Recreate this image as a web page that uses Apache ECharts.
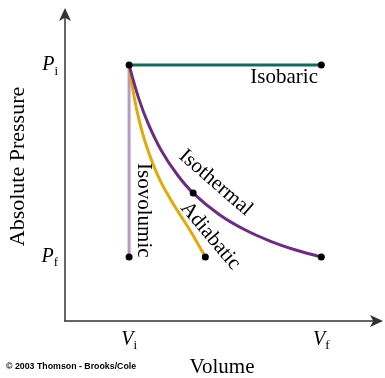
<!DOCTYPE html>
<html>
<head>
<meta charset="utf-8">
<script src="https://cdn.jsdelivr.net/npm/echarts@6/dist/echarts.min.js"></script>
<style>
html,body{margin:0;padding:0;background:#fff;}
#chart{width:385px;height:378px;}
</style>
</head>
<body>
<div id="chart"></div>
<script>
// ---- data (units: Vi = 1, Pf = 1) ----
const xTickValues = [1, 4];
const xTickSubs = ['i', 'f'];
const yTickValues = [1, 4];
const yTickSubs = ['f', 'i'];

const isobaricV = [1, 4];
const isobaricP = [4, 4];

const isovolumicV = [1, 1];
const isovolumicP = [4, 1];

const isothermalV = [1, 1.15, 1.3, 1.5, 1.75, 2.0, 2.4, 2.8, 3.2, 3.6, 4.0];
const isothermalP = [4, 3.48, 3.08, 2.67, 2.29, 2.0, 1.67, 1.43, 1.25, 1.11, 1.0];

const adiabaticV = [1, 1.05, 1.12, 1.22, 1.34, 1.46, 1.59, 1.75, 1.95, 2.19];
const adiabaticP = [4, 3.66, 3.30, 2.90, 2.54, 2.25, 2.0, 1.73, 1.42, 1.0];

const dotV = [1, 4, 1, 2.19, 4, 2];
const dotP = [4, 4, 1, 1, 1, 2];

const curveNames = ['Isobaric', 'Isovolumic', 'Isothermal', 'Adiabatic'];
// label anchors (data units) and rotation
const labelV = [3.42, 1.22, 2.35, 2.27];
const labelP = [3.8, 1.73, 2.16, 1.33];
const labelRot = [0, -90, -41, -50];

const pair = (a, b) => a.map((v, i) => [v, b[i]]);
const serif = '"Liberation Serif", "DejaVu Serif", serif';

const chart = echarts.init(document.getElementById('chart'), null, {renderer: 'canvas'});

function sub(v, values, subs, letter) {
  const i = values.indexOf(v);
  return i < 0 ? '' : '{m|' + letter + '}{s|' + subs[i] + '}';
}
const richTick = {
  m: {fontFamily: serif, fontStyle: 'italic', fontSize: 20, color: '#000'},
  s: {fontFamily: serif, fontSize: 13, color: '#000', padding: [12, 0, 0, 0]}
};

const option = {
  animation: false,
  backgroundColor: '#fff',
  grid: {left: 65, right: 6, top: 12, bottom: 57, containLabel: false, outerBoundsMode: 'none'},
  xAxis: {
    type: 'value', min: 0, max: 4.9, interval: 1,
    splitLine: {show: false},
    axisTick: {show: false},
    axisLine: {lineStyle: {color: '#333', width: 1.5}, symbol: ['none', 'arrow'], symbolSize: [9, 13], symbolOffset: [0, 4]},
    axisLabel: {
      margin: 6, showMaxLabel: false,
      formatter: v => sub(v, xTickValues, xTickSubs, 'V'),
      rich: richTick
    },
    name: 'Volume', nameLocation: 'middle', nameGap: 31,
    nameTextStyle: {fontFamily: serif, fontSize: 21, color: '#000'}
  },
  yAxis: {
    type: 'value', min: 0, max: 4.83, interval: 1,
    splitLine: {show: false},
    axisTick: {show: false},
    axisLine: {lineStyle: {color: '#333', width: 1.5}, symbol: ['none', 'arrow'], symbolSize: [9, 13], symbolOffset: [0, 4]},
    axisLabel: {
      margin: 7, showMaxLabel: false,
      formatter: v => sub(v, yTickValues, yTickSubs, 'P'),
      rich: richTick
    },
    name: 'Absolute Pressure', nameLocation: 'middle', nameGap: 36, nameRotate: 90,
    nameTextStyle: {fontFamily: serif, fontSize: 22, color: '#000'}
  },
  series: [
    {type: 'line', name: 'Isovolumic', data: pair(isovolumicV, isovolumicP), showSymbol: false,
     lineStyle: {color: '#b79ac2', width: 3}, z: 2},
    {type: 'line', name: 'Adiabatic', data: pair(adiabaticV, adiabaticP), showSymbol: false, smooth: 0.3,
     lineStyle: {color: '#e3a90a', width: 3}, z: 3},
    {type: 'line', name: 'Isothermal', data: pair(isothermalV, isothermalP), showSymbol: false, smooth: 0.3,
     lineStyle: {color: '#6b2d80', width: 3}, z: 4},
    {type: 'line', name: 'Isobaric', data: pair(isobaricV, isobaricP), showSymbol: false,
     lineStyle: {color: '#17695b', width: 3}, z: 5},
    {type: 'scatter', data: pair(dotV, dotP), symbolSize: 7, itemStyle: {color: '#000', opacity: 1}, z: 10, silent: true},
    {type: 'scatter', symbolSize: 0, silent: true, z: 11, itemStyle: {color: '#000', opacity: 1},
     data: curveNames.map((n, i) => ({
       value: [labelV[i], labelP[i]], name: n,
       label: {show: true, position: 'inside', formatter: n, rotate: labelRot[i], opacity: 1,
               fontFamily: serif, fontSize: 21, color: '#000', textBorderWidth: 0}
     }))}
  ],
  graphic: [
    {type: 'text', left: 6, top: 362,
     style: {text: '\u00A9 2003 Thomson - Brooks/Cole', font: 'bold 8.8px "Liberation Sans", Arial, sans-serif', fill: '#000'}}
  ]
};
chart.setOption(option);
</script>
</body>
</html>
